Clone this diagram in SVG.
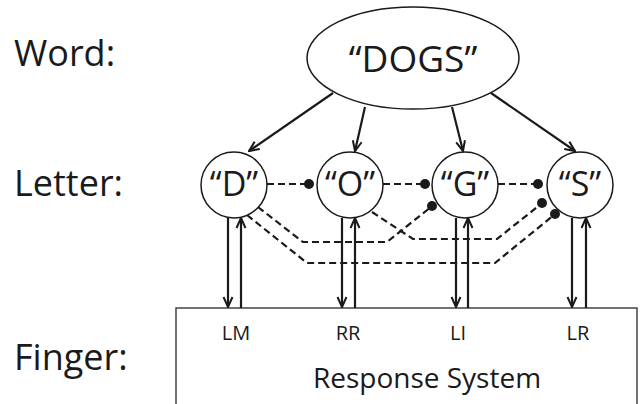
<svg xmlns="http://www.w3.org/2000/svg" width="642" height="404" viewBox="0 0 642 404">
<defs>
<marker id="ah" viewBox="0 0 12 12" refX="11" refY="6" markerWidth="12" markerHeight="12" markerUnits="userSpaceOnUse" orient="auto">
<path d="M1,1.5 L11,6 L1,10.5" fill="none" stroke="#1a1a1a" stroke-width="2"/>
</marker>
</defs>
<style>
text{font-family:"Open Sans","Liberation Sans",sans-serif;fill:#1a1a1a}
.lbl{font-size:36px}
.node{fill:#fff;stroke:#1a1a1a;stroke-width:1.5}
.arr{stroke:#1a1a1a;stroke-width:2.2;fill:none;marker-end:url(#ah)}
.dash{stroke:#1a1a1a;stroke-width:2.2;fill:none;stroke-dasharray:7,4}
.dot{fill:#1a1a1a}
.fl{font-size:20px}
</style>
<rect width="642" height="404" fill="#fff"/>
<text class="lbl" x="14" y="66">Word:</text>
<text class="lbl" x="14" y="196">Letter:</text>
<text class="lbl" x="14" y="370">Finger:</text>

<g id="response">
<path d="M176,404 L176,308 L637,308 L637,404" fill="none" stroke="#444" stroke-width="1.5"/>
<text class="fl" x="236" y="340" text-anchor="middle">LM</text>
<text class="fl" x="348" y="340" text-anchor="middle">RR</text>
<text class="fl" x="458" y="340" text-anchor="middle">LI</text>
<text class="fl" x="578" y="340" text-anchor="middle">LR</text>
<text x="427" y="388" font-size="28" text-anchor="middle">Response System</text>
</g>

<g id="connectors">
<line class="arr" x1="333" y1="93" x2="249" y2="151"/>
<line class="arr" x1="365" y1="107" x2="355" y2="151"/>
<line class="arr" x1="452" y1="107" x2="463" y2="151"/>
<line class="arr" x1="491" y1="93" x2="575" y2="151"/>

<line class="dash" x1="267" y1="184" x2="308" y2="184"/>
<line class="dash" x1="383" y1="184" x2="425" y2="184"/>
<line class="dash" x1="498" y1="184" x2="538" y2="184"/>
<polyline class="dash" points="258,207 303,242 387,242 431,207"/>
<polyline class="dash" points="372,212 413,239 497,239 541,204"/>
<polyline class="dash" points="247,215 307,263 495,263 554,215"/>
<circle class="dot" cx="309" cy="184" r="5"/>
<circle class="dot" cx="425" cy="184" r="5"/>
<circle class="dot" cx="538" cy="184" r="5"/>
<circle class="dot" cx="432" cy="206" r="5"/>
<circle class="dot" cx="542" cy="203" r="5"/>
<circle class="dot" cx="555" cy="214" r="5"/>

<line class="arr" x1="228" y1="218" x2="228" y2="307"/>
<line class="arr" x1="241" y1="308" x2="241" y2="218"/>
<line class="arr" x1="342" y1="218" x2="342" y2="307"/>
<line class="arr" x1="355" y1="308" x2="355" y2="218"/>
<line class="arr" x1="456" y1="218" x2="456" y2="307"/>
<line class="arr" x1="468" y1="308" x2="468" y2="218"/>
<line class="arr" x1="572" y1="218" x2="572" y2="307"/>
<line class="arr" x1="586" y1="308" x2="586" y2="218"/>
</g>

<g id="word">
<ellipse class="node" cx="413" cy="58" rx="106" ry="51"/>
<text x="413" y="72" font-size="37" text-anchor="middle">“DOGS”</text>
</g>
<g id="letterD">
<circle class="node" cx="234" cy="185" r="33"/>
<text x="234" y="196" font-size="34" text-anchor="middle">“D”</text>
</g>
<g id="letterO">
<circle class="node" cx="350" cy="185" r="33"/>
<text x="350" y="196" font-size="34" text-anchor="middle">“O”</text>
</g>
<g id="letterG">
<circle class="node" cx="465" cy="185" r="33"/>
<text x="465" y="196" font-size="34" text-anchor="middle">“G”</text>
</g>
<g id="letterS">
<circle class="node" cx="580" cy="185" r="33"/>
<text x="580" y="196" font-size="34" text-anchor="middle">“S”</text>
</g>
</svg>
